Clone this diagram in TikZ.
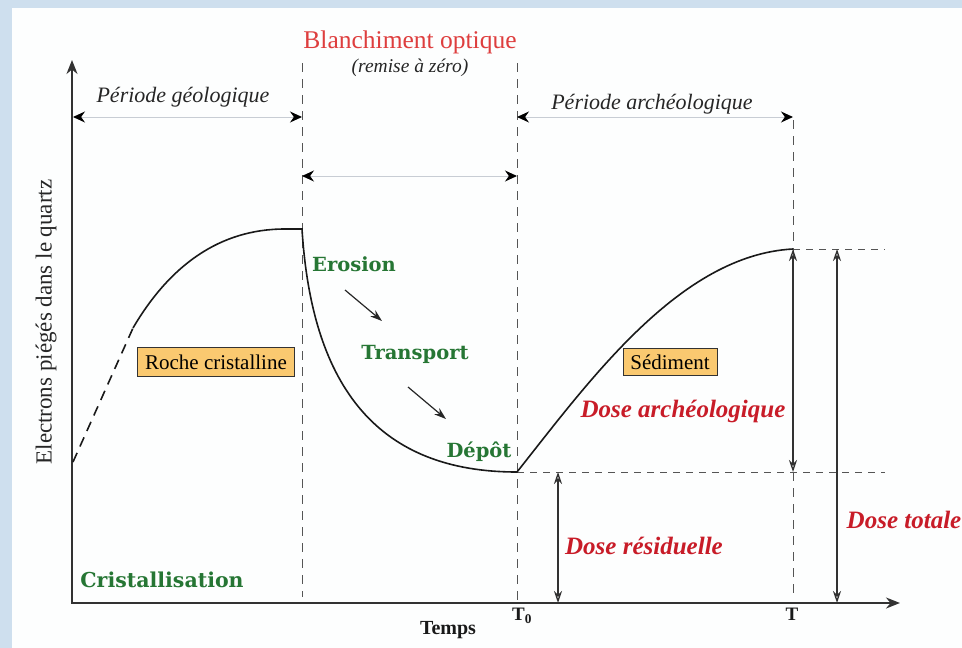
\documentclass[tikz,border=0pt]{standalone}
\usepackage{fontspec}
\setmainfont{Liberation Serif}
\newfontfamily\slabfont{DejaVu Serif}
\usetikzlibrary{arrows.meta}
\definecolor{frameblue}{RGB}{206,223,238}
\definecolor{paper}{RGB}{253,254,254}
\definecolor{lightred}{RGB}{222,62,62}
\definecolor{dosered}{RGB}{200,28,40}
\definecolor{labgreen}{RGB}{38,118,52}
\definecolor{boxfill}{RGB}{250,201,112}
\definecolor{axisgray}{RGB}{50,50,50}
\definecolor{dashgray}{RGB}{85,85,85}
\definecolor{spangray}{RGB}{200,205,212}
\tikzset{
  axisline/.style={draw=axisgray, line width=1.8pt, {Stealth[length=14pt,width=11pt]}-{Stealth[length=14pt,width=11pt]}},
  guide/.style={draw=dashgray, line width=0.9pt, dash pattern=on 9pt off 7pt},
  hguide/.style={draw=dashgray, line width=1pt, dash pattern=on 7pt off 6pt},
  span/.style={draw=spangray, line width=1pt, {Stealth[length=12pt,width=11pt,black]}-{Stealth[length=12pt,width=11pt,black]}},
  dosearrow/.style={draw=axisgray, line width=1.3pt, {Stealth[open,length=12pt,width=8pt]}-{Stealth[open,length=12pt,width=8pt]}},
  curve/.style={draw=black!90, line width=1.6pt},
  flow/.style={draw=black!85, line width=1.2pt, -{Stealth[length=12pt,width=8pt]}},
  steplabel/.style={text=labgreen, font=\slabfont\bfseries\fontsize{19.5}{22}\selectfont},
  doselabel/.style={text=dosered, font=\bfseries\itshape\fontsize{25}{30}\selectfont},
  periodlabel/.style={text=black!85, font=\itshape\fontsize{22}{26}\selectfont},
  stagebox/.style={draw=black!80, line width=1pt, fill=boxfill, inner sep=0pt, font=\fontsize{21}{24}\selectfont}
}
\begin{document}
\begin{tikzpicture}[x=1pt,y=-1pt]
\useasboundingbox (0,0) rectangle (962,648);
\fill[frameblue] (0,0) rectangle (962,648);
\fill[paper] (12,8) rectangle (962,648);

% coordinates
\coordinate (Ytop) at (72,60);
\coordinate (O) at (72,603);
\coordinate (Xend) at (900,603);
\coordinate (g1t) at (302,63);
\coordinate (g1b) at (302,597);
\coordinate (g2t) at (517,63);
\coordinate (g2b) at (517,600);
\coordinate (g3t) at (793,120);
\coordinate (g3b) at (793,600);
\coordinate (p1a) at (73,117);
\coordinate (p1b) at (302,117);
\coordinate (p2a) at (302,176);
\coordinate (p2b) at (517,176);
\coordinate (p3a) at (517,117);
\coordinate (p3b) at (793,117);
\coordinate (c0) at (73,462);
\coordinate (c1) at (133,328);
\coordinate (c2) at (285,229);
\coordinate (c3) at (302,229);
\coordinate (c4) at (517,472);
\coordinate (c5) at (793,249);
\coordinate (h1e) at (885,249);
\coordinate (h2e) at (885,472);
\coordinate (a2t) at (837,249);
\coordinate (a2b) at (837,603);
\coordinate (a3t) at (558,472);
\coordinate (a3b) at (558,603);
\coordinate (a1b) at (793,472);
\coordinate (s1a) at (345,290);
\coordinate (s1b) at (382,321);
\coordinate (s2a) at (408,387);
\coordinate (s2b) at (446,419);

% guides
\draw[guide] (g1t) -- (g1b);
\draw[guide] (g2t) -- (g2b);
\draw[guide] (g3t) -- (g3b);
\draw[hguide] (c5) -- (h1e);
\draw[hguide] (c4) -- (h2e);

% axes
\draw[axisline] (Ytop) -- (O) -- (Xend);

% spans
\draw[span] (p1a) -- (p1b);
\draw[span] (p2a) -- (p2b);
\draw[span] (p3a) -- (p3b);

% curve
\draw[curve, dash pattern=on 10pt off 7pt] (c0) -- (c1);
\draw[curve] (c1) .. controls (170,265) and (220,229) .. (c2) -- (c3)
  .. controls (312,390) and (380,472) .. (c4)
  .. controls (590,380) and (680,255) .. (c5);

% dose arrows
\draw[dosearrow] (c5) -- (a1b);
\draw[dosearrow] (a2t) -- (a2b);
\draw[dosearrow] (a3t) -- (a3b);

% flow arrows
\draw[flow] (s1a) -- (s1b);
\draw[flow] (s2a) -- (s2b);

% texts
\node[text=lightred, font=\fontsize{25.5}{30}\selectfont] (blanch) at (410,42) {Blanchiment optique};
\node[periodlabel, font=\itshape\fontsize{19.5}{24}\selectfont] (remise) at (410,68) {(remise à zéro)};
\node[periodlabel] (pgeo) at (183,97) {Période géologique};
\node[periodlabel] (parch) at (652,104) {Période archéologique};
\node[text=black!85, rotate=90, font=\fontsize{23}{26}\selectfont] (ylab) at (46,322) {Electrons piégés dans le quartz};
\node[stagebox, minimum width=157pt, minimum height=29pt] (roche) at (216,362) {Roche cristalline};
\node[stagebox, minimum width=94pt, minimum height=27pt] (sedim) at (670,362) {Sédiment};
\node[steplabel] (ero) at (354,264) {Erosion};
\node[steplabel] (trans) at (415,354) {Transport};
\node[steplabel] (depot) at (479,452) {Dépôt};
\node[steplabel, font=\slabfont\bfseries\fontsize{20.5}{24}\selectfont] (crist) at (162,580) {Cristallisation};
\node[doselabel] (darch) at (683,411) {Dose archéologique};
\node[doselabel] (dres) at (644,546) {Dose résiduelle};
\node[doselabel] (dtot) at (904,520) {Dose totale};
\node[text=black!90, font=\bfseries\fontsize{20}{24}\selectfont] (temps) at (448,630) {Temps};
\node[text=black!90, font=\bfseries\fontsize{19}{24}\selectfont] (tzero) at (522,616) {T$_{\mathbf{0}}$};
\node[text=black!90, font=\bfseries\fontsize{19}{24}\selectfont] (tend) at (792,614) {T};
\end{tikzpicture}
\end{document}
